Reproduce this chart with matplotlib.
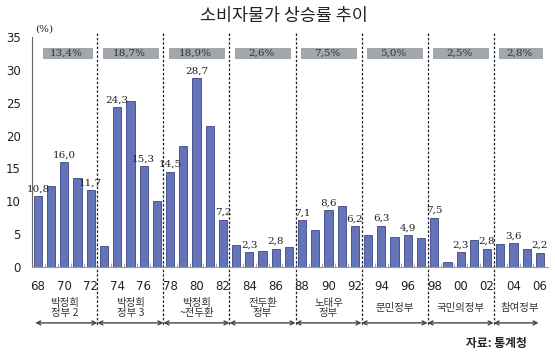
import matplotlib.pyplot as plt
import matplotlib.transforms as mtransforms

plt.rcParams['font.family'] = ['Noto Sans CJK KR', 'DejaVu Sans']

# Consumer price inflation, 1968-2006 (%)
years = list(range(1968, 2007))
rates = [10.8, 12.4, 16.0, 13.5, 11.7, 3.2, 24.3, 25.3, 15.3, 10.1,
         14.5, 18.4, 28.7, 21.4, 7.2, 3.3, 2.3, 2.4, 2.8, 3.0,
         7.1, 5.7, 8.6, 9.3, 6.2, 4.8, 6.3, 4.5, 4.9, 4.4,
         7.5, 0.8, 2.3, 4.1, 2.8, 3.5, 3.6, 2.8, 2.2]
labelled_years = list(range(1968, 2007, 2))

# Government periods: first year, last year, name, average rate
period_start = [1968, 1973, 1978, 1983, 1988, 1993, 1998, 2003]
period_end = [1972, 1977, 1982, 1987, 1992, 1997, 2002, 2006]
period_names = ['박정희\n정부 2', '박정희\n정부 3', '박정희\n~전두환', '전두환\n정부',
                '노태우\n정부', '문민정부', '국민의정부', '참여정부']
period_avg = ['13,4%', '18,7%', '18,9%', '2,6%', '7,5%', '5,0%', '2,5%', '2,8%']

fig = plt.figure(figsize=(5.55, 3.56), dpi=100)
ax = fig.add_axes([0.0577, 0.25, 0.9293, 0.646])

ax.bar(years, rates, width=0.62, color='#6574b9', edgecolor='#3b4685', linewidth=0.6)

for y, r in zip(years, rates):
    if y in labelled_years:
        ax.text(y, r + 0.4, f'{r:.1f}'.replace('.', ','), ha='center', va='bottom',
                fontsize=7.5, family='DejaVu Serif', color='#222')

ax.set_xlim(1967.55, 2006.6)
ax.set_ylim(0, 35)
ax.set_yticks(range(0, 36, 5))
ax.set_xticks(labelled_years)
ax.set_xticklabels([f'{y % 100:02d}' for y in labelled_years])
ax.set_xticks([y + 0.5 for y in years[:-1]], minor=True)
ax.tick_params(axis='x', which='major', length=0, pad=9, labelsize=8.5, colors='#222')
ax.tick_params(axis='x', which='minor', length=3, direction='in', color='#999')
ax.tick_params(axis='y', length=0, pad=8, labelsize=8.5, colors='#222')
for lab in ax.get_xticklabels() + ax.get_yticklabels():
    lab.set_family('DejaVu Sans')
ax.spines['top'].set_visible(False)
ax.spines['right'].set_visible(False)
ax.spines['left'].set_color('#666')
ax.spines['bottom'].set_color('#999')

trans = mtransforms.blended_transform_factory(ax.transData, ax.transAxes)

# dashed separators
for s in period_start[1:]:
    ax.plot([s - 0.5, s - 0.5], [1.017, -0.255], transform=trans, clip_on=False,
            color='#222', lw=0.9, ls=(0, (2, 1.5)))

# boxes with averages and period names
arrow_y = -0.243
for i, (s, e) in enumerate(zip(period_start, period_end)):
    left = s - 0.5 if i > 0 else s
    right = e + 0.5 if i < len(period_start) - 1 else 2006.6
    ax.add_patch(plt.Rectangle((left + 0.4, 31.7), right - left - 0.75, 1.6,
                               color='#a2a6ad', lw=0, clip_on=False))
    ax.text((left + right) / 2 - 0.1, 32.5, period_avg[i], ha='center', va='center',
            fontsize=7.5, family='DejaVu Serif', color='#333')
    cx = (s + e) / 2
    ax.text(cx, -0.18, period_names[i], transform=trans, ha='center', va='center',
            fontsize=7.5, color='#333', linespacing=1.0)
    a0 = s - 0.5 if i > 0 else 1967.8
    a1 = e + 0.5 if i < len(period_start) - 1 else 2005.9
    ax.annotate('', xy=(a1, arrow_y), xytext=(a0, arrow_y), xycoords=trans,
                arrowprops=dict(arrowstyle='<->', color='#444', lw=1,
                                shrinkA=0, shrinkB=0, mutation_scale=7),
                annotation_clip=False)

fig.text(0.512, 0.955, '소비자물가 상승률 추이', ha='center', va='center',
         fontsize=12.5, color='#222')
fig.text(0.063, 0.918, '(%)', ha='left', va='center', fontsize=7.5,
         family='DejaVu Serif', color='#222')
fig.text(0.95, 0.036, '자료: 통계청', ha='right', va='center', fontsize=8.5,
         color='#222', fontweight='bold')

fig.savefig('out.png', dpi=100)
